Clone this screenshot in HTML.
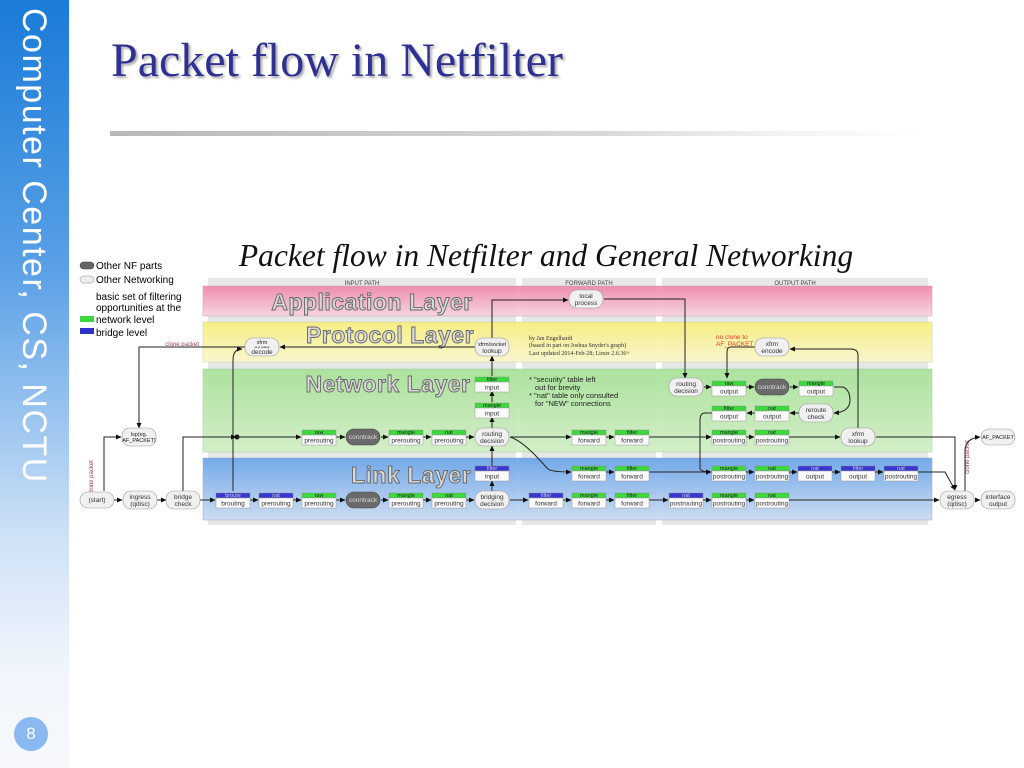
<!DOCTYPE html>
<html><head><meta charset="utf-8"><style>
body{margin:0;width:1024px;height:768px;overflow:hidden;background:#fff;position:relative;font-family:"Liberation Sans",sans-serif}
#side{position:absolute;left:0;top:0;width:69px;height:768px;background:linear-gradient(#1a7bd8 0%,#5aa0e6 35%,#cfe2f7 70%,#f2f6fc 88%,#f6f8fc 100%)}
#sidet{position:absolute;left:53px;top:8px;transform-origin:0 0;transform:rotate(90deg);color:#fff;font-size:34px;white-space:nowrap;letter-spacing:1.5px;font-weight:300}
#num{position:absolute;left:14px;top:717px;width:34px;height:34px;border-radius:50%;background:#8ab8f0;color:#fff;text-align:center;line-height:34px;font-size:17px}
#title{position:absolute;left:111px;top:33px;font-family:"Liberation Serif",serif;font-size:48px;color:#2e3192;text-shadow:2px 2px 2px #aaa}
#bar{position:absolute;left:110px;top:131px;width:810px;height:5px;background:linear-gradient(90deg,#b8b8b8,#d8d8d8 60%,#f0f0f0 80%,#fff)}
svg{position:absolute;left:0;top:0}
.hg{fill:#3ed83e;stroke:#888;stroke-width:.4}.hb{fill:#3838d0;stroke:#888;stroke-width:.4}
.lb{fill:#fafafa;stroke:#999;stroke-width:.5}
.p{fill:#f0f0f0;stroke:#999;stroke-width:.6}.pd{fill:#6a6a6a;stroke:#444;stroke-width:.6}
text{font-family:"Liberation Sans",sans-serif;text-anchor:middle}
.th{font-size:5.5px;fill:#222}.tb{font-size:5.5px;fill:#ccd}.tl{font-size:6.5px;fill:#333}
.e{fill:none;stroke:#222;stroke-width:1;marker-end:url(#a)}
.lt{font-size:23px;fill:#d8d8d8;stroke:#666;stroke-width:.9;font-weight:bold;letter-spacing:.5px}
</style></head><body>
<div id="side"></div><div id="sidet">Computer Center, CS, NCTU</div><div id="num">8</div>
<div id="title">Packet flow in Netfilter</div><div id="bar"></div>
<svg width="1024" height="768" viewBox="0 0 1024 768">
<defs><marker id="a" markerWidth="6" markerHeight="6" refX="5" refY="3" orient="auto" markerUnits="userSpaceOnUse"><path d="M0,0.5 L5.5,3 L0,5.5z" fill="#111"/></marker>
<linearGradient id="gp" x1="0" y1="0" x2="0" y2="1"><stop offset="0" stop-color="#ee88a8"/><stop offset="1" stop-color="#f8d4de"/></linearGradient>
<linearGradient id="gy" x1="0" y1="0" x2="0" y2="1"><stop offset="0" stop-color="#f7ef7c"/><stop offset="1" stop-color="#fbf6cc"/></linearGradient>
<linearGradient id="gg" x1="0" y1="0" x2="0" y2="1"><stop offset="0" stop-color="#a8e298"/><stop offset="1" stop-color="#d2efc6"/></linearGradient>
<linearGradient id="gb" x1="0" y1="0" x2="0" y2="1"><stop offset="0" stop-color="#6aa4ea"/><stop offset="1" stop-color="#cadcf2"/></linearGradient></defs>
<text x="546" y="266" style="font-family:'Liberation Serif',serif;font-style:italic;font-size:31.5px;fill:#111">Packet flow in Netfilter and General Networking</text>
<!-- legend -->
<g style="font-size:10px">
<rect x="80" y="262" width="14" height="7" rx="3.5" fill="#666" stroke="#333" stroke-width=".5"/><text x="96" y="269" style="text-anchor:start;font-size:10px">Other NF parts</text>
<rect x="80" y="276" width="14" height="7" rx="3.5" fill="#eee" stroke="#888" stroke-width=".5"/><text x="96" y="283" style="text-anchor:start;font-size:10px">Other Networking</text>
<text x="96" y="300" style="text-anchor:start;font-size:10px">basic set of filtering</text>
<text x="96" y="311" style="text-anchor:start;font-size:10px">opportunities at the</text>
<rect x="80" y="316" width="14" height="6" fill="#3ed83e"/><text x="96" y="323" style="text-anchor:start;font-size:10px">network level</text>
<rect x="80" y="328" width="14" height="6" fill="#3030c8"/><text x="96" y="336" style="text-anchor:start;font-size:10px">bridge level</text>
</g>
<!-- columns -->
<rect x="208" y="278" width="308" height="247" fill="#e6e8e8"/>
<rect x="522" y="278" width="134" height="247" fill="#e6e8e8"/>
<rect x="662" y="278" width="266" height="247" fill="#e6e8e8"/>
<text x="362" y="285" style="font-size:6px;fill:#444">INPUT PATH</text>
<text x="589" y="285" style="font-size:6px;fill:#444">FORWARD PATH</text>
<text x="795" y="285" style="font-size:6px;fill:#444">OUTPUT PATH</text>
<rect x="203" y="286" width="729" height="30" fill="url(#gp)" stroke="#c99" stroke-width=".5" opacity=".93"/>
<rect x="203" y="322" width="729" height="40" fill="url(#gy)" stroke="#cc9" stroke-width=".5" opacity=".93"/>
<rect x="203" y="369" width="729" height="83" fill="url(#gg)" stroke="#9c9" stroke-width=".5" opacity=".93"/>
<rect x="203" y="458" width="729" height="62" fill="url(#gb)" stroke="#99c" stroke-width=".5" opacity=".93"/>
<text class="lt" x="372" y="310">Application Layer</text>
<text class="lt" x="390" y="343">Protocol Layer</text>
<text class="lt" x="388" y="392">Network Layer</text>
<text class="lt" x="411" y="483">Link Layer</text>
<g style="font-family:'Liberation Serif',serif;font-size:6px;fill:#333">
<text x="529" y="340" style="text-anchor:start;font-family:'Liberation Serif',serif">by Jan Engelhardt</text>
<text x="529" y="347" style="text-anchor:start;font-family:'Liberation Serif',serif">(based in part on Joshua Snyder's graph)</text>
<text x="529" y="355" style="text-anchor:start;font-family:'Liberation Serif',serif">Last updated 2014-Feb-28; Linux 2.6.36+</text></g>
<g style="font-size:7.5px;fill:#222">
<text x="529" y="382" style="text-anchor:start;font-size:7.5px">* "security" table left</text>
<text x="535" y="390" style="text-anchor:start;font-size:7.5px">out for brevity</text>
<text x="529" y="398" style="text-anchor:start;font-size:7.5px">* "nat" table only consulted</text>
<text x="535" y="406" style="text-anchor:start;font-size:7.5px">for "NEW" connections</text></g>
<text x="716" y="339" style="text-anchor:start;font-size:6.5px;fill:#e84020">no clone to</text>
<text x="716" y="346" style="text-anchor:start;font-size:6.5px;fill:#e84020">AF_PACKET</text>
<text x="199" y="346" style="text-anchor:end;font-size:6px;fill:#a04050">clone packet</text>
<text transform="translate(93,477) rotate(-90)" style="font-size:6px;fill:#a04050">clone packet</text>
<text transform="translate(969,457) rotate(-90)" style="font-size:6px;fill:#a04050">clone packet</text>
<!-- edges -->
<g>
<path class="e" d="M114,500 H122"/><path class="e" d="M157,500 H166"/><path class="e" d="M200,500 H215"/>
<path class="e" d="M250,500 H258"/><path class="e" d="M293,500 H301"/><path class="e" d="M336,500 H345"/>
<path class="e" d="M381,500 H388"/><path class="e" d="M423,500 H431"/><path class="e" d="M466,500 H474"/>
<path class="e" d="M510,500 H528"/><path class="e" d="M563,500 H571"/><path class="e" d="M606,500 H614"/>
<path class="e" d="M649,500 H668"/><path class="e" d="M703,500 H711"/><path class="e" d="M746,500 H754"/>
<path class="e" d="M789,500 H939"/><path class="e" d="M975,500 H980"/>
<path class="e" d="M104,491 V437 H121"/>
<path class="e" d="M245,347 H139 V428"/>
<path class="e" d="M475,347 H280"/>
<path class="e" d="M233,491 V360 Q233,349 242,349"/>
<path class="e" d="M183,491 V437 H236"/>
<circle cx="237" cy="437" r="2.5" fill="#111"/>
<path class="e" d="M237,437 H301"/><path class="e" d="M336,437 H345"/><path class="e" d="M381,437 H388"/><path class="e" d="M423,437 H431"/><path class="e" d="M466,437 H474"/>
<path class="e" d="M510,437 H571"/><path class="e" d="M606,437 H614"/><path class="e" d="M649,437 H711"/><path class="e" d="M746,437 H754"/><path class="e" d="M789,437 H840"/>
<path class="e" d="M876,437 H955 V490"/>
<path class="e" d="M965,491 V450 Q966,438 980,437"/>
<path class="e" d="M510,437 Q520,440 535,455 L548,469 Q552,472 571,472"/>
<path class="e" d="M606,472 H614"/><path class="e" d="M649,472 H711"/><path class="e" d="M746,472 H754"/><path class="e" d="M789,472 H797"/><path class="e" d="M832,472 H840"/><path class="e" d="M875,472 H883"/>
<path class="e" d="M918,472 H945 L955,490"/>
<path class="e" d="M492,491 V481"/><path class="e" d="M492,466 V446"/>
<path class="e" d="M492,428 V417"/><path class="e" d="M492,402 V391"/><path class="e" d="M492,376 V356"/>
<path class="e" d="M492,338 V300 H568"/>
<path class="e" d="M604,299 H685 V378"/>
<path class="e" d="M704,387 H711"/><path class="e" d="M746,387 H754"/><path class="e" d="M790,387 H798"/>
<path class="e" d="M834,387 H843 Q850,390 850,400 Q850,412 834,413"/>
<path class="e" d="M799,413 H790"/><path class="e" d="M755,413 H747"/>
<path class="e" d="M712,413 H705 Q700,413 700,420 V437 H711"/>
<path d="M700,437 V468 Q700,472 711,472" class="e"/>
<path class="e" d="M858,428 V355 Q858,349 850,349 H790"/>
<path class="e" d="M755,347 H731 Q727,347 727,352 V378"/>
</g>
<!-- pills -->
<g>
<g transform="translate(97,500)"><rect class="p" x="-17" y="-8" width="34" height="16" rx="8"/><text class="tl" y="2">(start)</text></g>
<g transform="translate(140,500)"><rect class="p" x="-17" y="-9" width="34" height="18" rx="8"/><text class="tl" y="-1">ingress</text><text class="tl" y="6">(qdisc)</text></g>
<g transform="translate(183,500)"><rect class="p" x="-17" y="-9" width="34" height="18" rx="8"/><text class="tl" y="-1">bridge</text><text class="tl" y="6">check</text></g>
<g transform="translate(139,437)"><rect class="p" x="-17" y="-9" width="34" height="18" rx="8"/><text class="th" y="-1">lsp(eg.</text><text class="th" y="5">AF_PACKET)</text></g>
<g transform="translate(262,347)"><rect class="p" x="-17" y="-9" width="34" height="18" rx="8"/><text class="th" y="-3">xfrm</text><text style="font-size:3px" y="1">(e.g. ipsec)</text><text class="tl" y="7">decode</text></g>
<g transform="translate(492,347)"><rect class="p" x="-17" y="-9" width="34" height="18" rx="8"/><text class="th" y="-1">xfrm/socket</text><text class="tl" y="6">lookup</text></g>
<g transform="translate(586,299)"><rect class="p" x="-17" y="-9" width="34" height="18" rx="8"/><text class="tl" y="-1">local</text><text class="tl" y="6">process</text></g>
<g transform="translate(492,437)"><rect class="p" x="-17" y="-9" width="34" height="18" rx="8"/><text class="tl" y="-1">routing</text><text class="tl" y="6">decision</text></g>
<g transform="translate(492,500)"><rect class="p" x="-17" y="-9" width="34" height="18" rx="8"/><text class="tl" y="-1">bridging</text><text class="tl" y="6">decision</text></g>
<g transform="translate(686,387)"><rect class="p" x="-17" y="-9" width="34" height="18" rx="8"/><text class="tl" y="-1">routing</text><text class="tl" y="6">decision</text></g>
<g transform="translate(772,347)"><rect class="p" x="-17" y="-9" width="34" height="18" rx="8"/><text class="tl" y="-1">xfrm</text><text class="tl" y="6">encode</text></g>
<g transform="translate(816,413)"><rect class="p" x="-17" y="-9" width="34" height="18" rx="8"/><text class="tl" y="-1">reroute</text><text class="tl" y="6">check</text></g>
<g transform="translate(858,437)"><rect class="p" x="-17" y="-9" width="34" height="18" rx="8"/><text class="tl" y="-1">xfrm</text><text class="tl" y="6">lookup</text></g>
<g transform="translate(998,437)"><rect class="p" x="-17" y="-8" width="34" height="16" rx="8"/><text class="th" y="2">AF_PACKET</text></g>
<g transform="translate(957,500)"><rect class="p" x="-17" y="-9" width="34" height="18" rx="8"/><text class="tl" y="-1">egress</text><text class="tl" y="6">(qdisc)</text></g>
<g transform="translate(998,500)"><rect class="p" x="-17" y="-9" width="34" height="18" rx="8"/><text class="tl" y="-1">interface</text><text class="tl" y="6">output</text></g>
<g transform="translate(363,500)"><rect class="pd" x="-17" y="-8" width="34" height="16" rx="8"/><text class="tl" style="fill:#ddd" y="2">conntrack</text></g>
<g transform="translate(363,437)"><rect class="pd" x="-17" y="-8" width="34" height="16" rx="8"/><text class="tl" style="fill:#ddd" y="2">conntrack</text></g>
<g transform="translate(772,387)"><rect class="pd" x="-17" y="-8" width="34" height="16" rx="8"/><text class="tl" style="fill:#ddd" y="2">conntrack</text></g>
</g>
<g>
<g transform="translate(233,500)"><rect class="hb" x="-17" y="-7" width="34" height="5"/><rect class="lb" x="-17" y="-2" width="34" height="10"/><text class="tb" y="-2.8">broute</text><text class="tl" y="5.5">brouting</text></g>
<g transform="translate(276,500)"><rect class="hb" x="-17" y="-7" width="34" height="5"/><rect class="lb" x="-17" y="-2" width="34" height="10"/><text class="tb" y="-2.8">nat</text><text class="tl" y="5.5">prerouting</text></g>
<g transform="translate(319,500)"><rect class="hg" x="-17" y="-7" width="34" height="5"/><rect class="lb" x="-17" y="-2" width="34" height="10"/><text class="th" y="-2.8">raw</text><text class="tl" y="5.5">prerouting</text></g>
<g transform="translate(406,500)"><rect class="hg" x="-17" y="-7" width="34" height="5"/><rect class="lb" x="-17" y="-2" width="34" height="10"/><text class="th" y="-2.8">mangle</text><text class="tl" y="5.5">prerouting</text></g>
<g transform="translate(449,500)"><rect class="hg" x="-17" y="-7" width="34" height="5"/><rect class="lb" x="-17" y="-2" width="34" height="10"/><text class="th" y="-2.8">nat</text><text class="tl" y="5.5">prerouting</text></g>
<g transform="translate(546,500)"><rect class="hb" x="-17" y="-7" width="34" height="5"/><rect class="lb" x="-17" y="-2" width="34" height="10"/><text class="tb" y="-2.8">filter</text><text class="tl" y="5.5">forward</text></g>
<g transform="translate(589,500)"><rect class="hg" x="-17" y="-7" width="34" height="5"/><rect class="lb" x="-17" y="-2" width="34" height="10"/><text class="th" y="-2.8">mangle</text><text class="tl" y="5.5">forward</text></g>
<g transform="translate(632,500)"><rect class="hg" x="-17" y="-7" width="34" height="5"/><rect class="lb" x="-17" y="-2" width="34" height="10"/><text class="th" y="-2.8">filter</text><text class="tl" y="5.5">forward</text></g>
<g transform="translate(686,500)"><rect class="hb" x="-17" y="-7" width="34" height="5"/><rect class="lb" x="-17" y="-2" width="34" height="10"/><text class="tb" y="-2.8">nat</text><text class="tl" y="5.5">postrouting</text></g>
<g transform="translate(729,500)"><rect class="hg" x="-17" y="-7" width="34" height="5"/><rect class="lb" x="-17" y="-2" width="34" height="10"/><text class="th" y="-2.8">mangle</text><text class="tl" y="5.5">postrouting</text></g>
<g transform="translate(772,500)"><rect class="hg" x="-17" y="-7" width="34" height="5"/><rect class="lb" x="-17" y="-2" width="34" height="10"/><text class="th" y="-2.8">nat</text><text class="tl" y="5.5">postrouting</text></g>

<g transform="translate(492,473)"><rect class="hb" x="-17" y="-7" width="34" height="5"/><rect class="lb" x="-17" y="-2" width="34" height="10"/><text class="tb" y="-2.8">filter</text><text class="tl" y="5.5">input</text></g>
<g transform="translate(589,473)"><rect class="hg" x="-17" y="-7" width="34" height="5"/><rect class="lb" x="-17" y="-2" width="34" height="10"/><text class="th" y="-2.8">mangle</text><text class="tl" y="5.5">forward</text></g>
<g transform="translate(632,473)"><rect class="hg" x="-17" y="-7" width="34" height="5"/><rect class="lb" x="-17" y="-2" width="34" height="10"/><text class="th" y="-2.8">filter</text><text class="tl" y="5.5">forward</text></g>
<g transform="translate(729,473)"><rect class="hg" x="-17" y="-7" width="34" height="5"/><rect class="lb" x="-17" y="-2" width="34" height="10"/><text class="th" y="-2.8">mangle</text><text class="tl" y="5.5">postrouting</text></g>
<g transform="translate(772,473)"><rect class="hg" x="-17" y="-7" width="34" height="5"/><rect class="lb" x="-17" y="-2" width="34" height="10"/><text class="th" y="-2.8">nat</text><text class="tl" y="5.5">postrouting</text></g>
<g transform="translate(815,473)"><rect class="hb" x="-17" y="-7" width="34" height="5"/><rect class="lb" x="-17" y="-2" width="34" height="10"/><text class="tb" y="-2.8">nat</text><text class="tl" y="5.5">output</text></g>
<g transform="translate(858,473)"><rect class="hb" x="-17" y="-7" width="34" height="5"/><rect class="lb" x="-17" y="-2" width="34" height="10"/><text class="tb" y="-2.8">filter</text><text class="tl" y="5.5">output</text></g>
<g transform="translate(901,473)"><rect class="hb" x="-17" y="-7" width="34" height="5"/><rect class="lb" x="-17" y="-2" width="34" height="10"/><text class="tb" y="-2.8">nat</text><text class="tl" y="5.5">postrouting</text></g>

<g transform="translate(319,437)"><rect class="hg" x="-17" y="-7" width="34" height="5"/><rect class="lb" x="-17" y="-2" width="34" height="10"/><text class="th" y="-2.8">raw</text><text class="tl" y="5.5">prerouting</text></g>
<g transform="translate(406,437)"><rect class="hg" x="-17" y="-7" width="34" height="5"/><rect class="lb" x="-17" y="-2" width="34" height="10"/><text class="th" y="-2.8">mangle</text><text class="tl" y="5.5">prerouting</text></g>
<g transform="translate(449,437)"><rect class="hg" x="-17" y="-7" width="34" height="5"/><rect class="lb" x="-17" y="-2" width="34" height="10"/><text class="th" y="-2.8">nat</text><text class="tl" y="5.5">prerouting</text></g>
<g transform="translate(589,437)"><rect class="hg" x="-17" y="-7" width="34" height="5"/><rect class="lb" x="-17" y="-2" width="34" height="10"/><text class="th" y="-2.8">mangle</text><text class="tl" y="5.5">forward</text></g>
<g transform="translate(632,437)"><rect class="hg" x="-17" y="-7" width="34" height="5"/><rect class="lb" x="-17" y="-2" width="34" height="10"/><text class="th" y="-2.8">filter</text><text class="tl" y="5.5">forward</text></g>
<g transform="translate(729,437)"><rect class="hg" x="-17" y="-7" width="34" height="5"/><rect class="lb" x="-17" y="-2" width="34" height="10"/><text class="th" y="-2.8">mangle</text><text class="tl" y="5.5">postrouting</text></g>
<g transform="translate(772,437)"><rect class="hg" x="-17" y="-7" width="34" height="5"/><rect class="lb" x="-17" y="-2" width="34" height="10"/><text class="th" y="-2.8">nat</text><text class="tl" y="5.5">postrouting</text></g>

<g transform="translate(492,410)"><rect class="hg" x="-17" y="-7" width="34" height="5"/><rect class="lb" x="-17" y="-2" width="34" height="10"/><text class="th" y="-2.8">mangle</text><text class="tl" y="5.5">input</text></g>
<g transform="translate(492,384)"><rect class="hg" x="-17" y="-7" width="34" height="5"/><rect class="lb" x="-17" y="-2" width="34" height="10"/><text class="th" y="-2.8">filter</text><text class="tl" y="5.5">input</text></g>
<g transform="translate(729,413)"><rect class="hg" x="-17" y="-7" width="34" height="5"/><rect class="lb" x="-17" y="-2" width="34" height="10"/><text class="th" y="-2.8">filter</text><text class="tl" y="5.5">output</text></g>
<g transform="translate(772,413)"><rect class="hg" x="-17" y="-7" width="34" height="5"/><rect class="lb" x="-17" y="-2" width="34" height="10"/><text class="th" y="-2.8">nat</text><text class="tl" y="5.5">output</text></g>
<g transform="translate(729,388)"><rect class="hg" x="-17" y="-7" width="34" height="5"/><rect class="lb" x="-17" y="-2" width="34" height="10"/><text class="th" y="-2.8">raw</text><text class="tl" y="5.5">output</text></g>
<g transform="translate(816,388)"><rect class="hg" x="-17" y="-7" width="34" height="5"/><rect class="lb" x="-17" y="-2" width="34" height="10"/><text class="th" y="-2.8">mangle</text><text class="tl" y="5.5">output</text></g>
</g>
</svg>
</body></html>
